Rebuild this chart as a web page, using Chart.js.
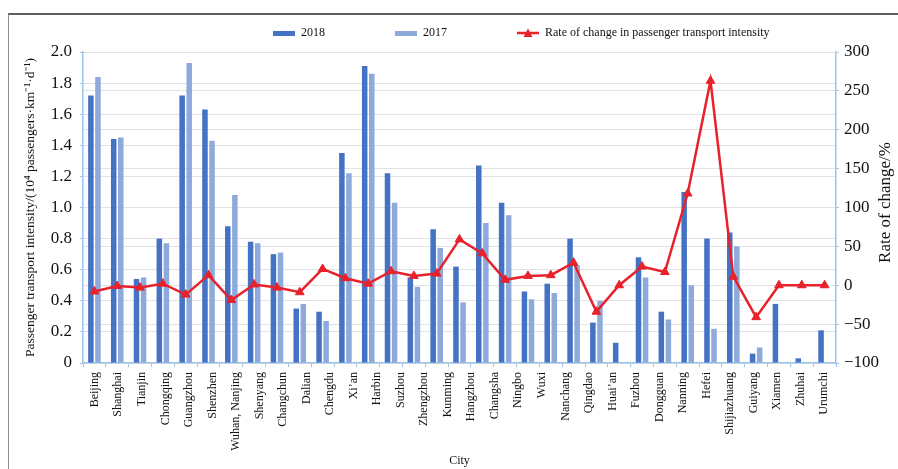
<!DOCTYPE html>
<html>
<head>
<meta charset="utf-8">
<title>Passenger transport intensity by city</title>
<script src="https://cdn.jsdelivr.net/npm/chart.js@4.4.1/dist/chart.umd.min.js"></script>
<style>
  html, body { margin: 0; padding: 0; background: #fff; }
  #wrap { position: relative; width: 898px; height: 469px; overflow: hidden; }
  #frame {
    position: absolute; left: 8px; top: 13px; right: -4px; bottom: -4px;
    border-top: 2px solid #5e5e5e; border-left: 1px solid #8c8c8c;
    pointer-events: none;
  }
</style>
</head>
<body>
<div id="wrap">
  <canvas id="chart" width="898" height="469"></canvas>
  <div id="frame"></div>
</div>
<script>
// City labels as printed under the axis (32 labels for 33 bar groups)
const cities = ['Beijing', 'Shanghai', 'Tianjin', 'Chongqing', 'Guangzhou', 'Shenzhen',
    'Wuhan, Nanjing', 'Shenyang', 'Changchun', 'Dalian', 'Chengdu', 'Xi\u2019an', 'Harbin',
    'Suzhou', 'Zhengzhou', 'Kunming', 'Hangzhou', 'Changsha', 'Ningbo', 'Wuxi', 'Nanchang',
    'Qingdao', 'Huai\u2019an', 'Fuzhou', 'Dongguan', 'Nanning', 'Hefei', 'Shijiazhuang',
    'Guiyang', 'Xiamen', 'Zhuhai', 'Urumchi'];

// Passenger transport intensity, 10^4 passengers per km per day
const intensity2018 = [1.72, 1.44, 0.54, 0.80, 1.72, 1.63, 0.88, 0.78, 0.70, 0.35,
    0.33, 1.35, 1.91, 1.22, 0.55, 0.86, 0.62, 1.27, 1.03, 0.46,
    0.51, 0.80, 0.26, 0.13, 0.68, 0.33, 1.10, 0.80, 0.84, 0.06,
    0.38, 0.03, 0.21];
const intensity2017 = [1.84, 1.45, 0.55, 0.77, 1.93, 1.43, 1.08, 0.77, 0.71, 0.38,
    0.27, 1.22, 1.86, 1.03, 0.49, 0.74, 0.39, 0.90, 0.95, 0.41,
    0.45, 0.63, 0.40, null, 0.55, 0.28, 0.50, 0.22, 0.75, 0.10,
    null, null, null];
// Rate of change, %
const changeRate = [-8, -1, -3, 2, -12, 13, -19, 1, -3, -9,
    21, 9, 2, 18, 12, 15, 59, 41, 7, 12,
    13, 29, -34, 0, 24, 17, 118, 263, 11, -41,
    0, 0, 0];

const leftTicks = { min: 0, max: 2, step: 0.2 };
const rightTicks = { min: -100, max: 300, step: 50 };

const DARK = '#4472c4';
const LIGHT = '#8eaadb';
const RED = '#e8212b';
const AXIS = '#9dc3e6';
const GRID = '#e2e2e2';
const SERIF = '"Liberation Serif", "Times New Roman", serif';

Chart.defaults.font.family = SERIF;
Chart.defaults.color = '#111';

// small canvases used as legend symbols
function swatch(w, h, draw) {
    const c = document.createElement('canvas');
    c.width = w;
    c.height = h;
    draw(c.getContext('2d'), w, h);
    return c;
}
const legendIcons = [
    swatch(22, 5, (g, w, h) => { g.fillStyle = DARK; g.fillRect(0, 0, w, h); }),
    swatch(22, 5, (g, w, h) => { g.fillStyle = LIGHT; g.fillRect(0, 0, w, h); }),
    swatch(22, 10, (g, w, h) => {
        g.strokeStyle = RED; g.lineWidth = 2.5;
        g.beginPath(); g.moveTo(0, h / 2); g.lineTo(w, h / 2); g.stroke();
        g.fillStyle = RED;
        g.beginPath(); g.moveTo(w / 2, 0.5); g.lineTo(w / 2 + 4.5, h - 1); g.lineTo(w / 2 - 4.5, h - 1); g.closePath(); g.fill();
    })
];

// legend sits off-centre and higher than Chart.js would put it
const legendPlacement = {
    id: 'legendPlacement',
    beforeLayout(chart) {
        const lg = chart.legend;
        if (lg && !lg.fitPatched) {
            const fit = lg.fit;
            lg.fit = function () { fit.call(this); this.height = 52; };
            lg.fitPatched = true;
        }
    },
    afterLayout(chart) {
        const lg = chart.legend;
        if (!lg) return;
        const pad = lg.options.labels.padding;
        lg.left = 273 - pad;
        lg.right = chart.width;
        lg.top = 33 - pad - 6;
    }
};

// right-hand title reads bottom-to-top like the left one
const rightTitle = {
    id: 'rightTitle',
    afterDraw(chart) {
        const { ctx, chartArea } = chart;
        const s = chart.scales.y2;
        ctx.save();
        ctx.translate(s.right - 12, (chartArea.top + chartArea.bottom) / 2 - 5);
        ctx.rotate(-Math.PI / 2);
        ctx.font = '17px ' + SERIF;
        ctx.fillStyle = '#111';
        ctx.textAlign = 'center';
        ctx.textBaseline = 'middle';
        ctx.fillText('Rate of change/%', 0, 0);
        ctx.restore();
    }
};

const slots = intensity2018.map((_, i) => String(i + 1));

new Chart(document.getElementById('chart'), {
    data: {
        labels: slots,
        datasets: [
            {
                type: 'bar', label: '2018', data: intensity2018,
                backgroundColor: DARK, yAxisID: 'y', order: 1,
                categoryPercentage: 0.62, barPercentage: 0.78
            },
            {
                type: 'bar', label: '2017', data: intensity2017,
                backgroundColor: LIGHT, yAxisID: 'y', order: 1,
                categoryPercentage: 0.62, barPercentage: 0.78
            },
            {
                type: 'line', label: 'Rate of change in passenger transport intensity',
                data: changeRate, yAxisID: 'y2', order: 0,
                borderColor: RED, backgroundColor: RED, borderWidth: 2.5,
                pointStyle: 'triangle', pointRadius: 5, pointBorderWidth: 1,
                tension: 0
            }
        ]
    },
    options: {
        responsive: false,
        animation: false,
        layout: { padding: 0 },
        plugins: {
            tooltip: { enabled: false },
            legend: {
                position: 'top',
                align: 'start',
                labels: {
                    usePointStyle: true,
                    pointStyleWidth: 22,
                    padding: 70,
                    font: { size: 12 },
                    color: '#111',
                    sort: (a, b) => a.datasetIndex - b.datasetIndex,
                    generateLabels(chart) {
                        const items = Chart.defaults.plugins.legend.labels.generateLabels(chart);
                        items.forEach(it => { it.pointStyle = legendIcons[it.datasetIndex]; });
                        return items;
                    }
                }
            }
        },
        scales: {
            x: {
                type: 'category',
                position: 'bottom',
                offset: true,
                weight: 0,
                ticks: { display: false },
                grid: { offset: true, drawOnChartArea: false, tickLength: 4, color: AXIS, tickColor: AXIS },
                border: { color: AXIS, width: 1.5 },
                afterFit: s => { s.height = 4; }
            },
            cityAxis: {
                type: 'category',
                position: 'bottom',
                labels: cities,
                offset: true,
                weight: 1,
                grid: { display: false, drawTicks: false },
                border: { display: false },
                ticks: {
                    autoSkip: false, minRotation: 90, maxRotation: 90,
                    padding: 5, font: { size: 12 }, color: '#111'
                },
                title: { display: true, text: 'City', font: { size: 12 }, padding: { top: 0, bottom: 1 }, color: '#111' },
                afterFit: s => { s.height = 102; }
            },
            y: {
                position: 'left',
                min: leftTicks.min,
                max: leftTicks.max,
                ticks: {
                    stepSize: leftTicks.step, padding: 8, font: { size: 17 }, color: '#111',
                    callback: v => (v === 0 ? '0' : v.toFixed(1))
                },
                grid: { color: GRID, tickColor: AXIS, tickLength: 3 },
                border: { color: AXIS, width: 1.5 },
                title: {
                    display: true,
                    text: 'Passenger transport intensity/(10\u2074 passengers\u00b7km\u207b\u00b9\u00b7d\u207b\u00b9)',
                    font: { size: 13.5 }, padding: { top: 22, bottom: 0 }, color: '#111'
                },
                afterFit: s => { s.width = 83; }
            },
            y2: {
                position: 'right',
                min: rightTicks.min,
                max: rightTicks.max,
                ticks: {
                    stepSize: rightTicks.step, padding: 5, font: { size: 17 }, color: '#111',
                    callback: v => String(v).replace('-', '\u2212')
                },
                grid: { color: GRID, tickColor: AXIS, tickLength: 3 },
                border: { color: AXIS, width: 1.5 },
                afterFit: s => { s.width = 62; }
            }
        }
    },
    plugins: [legendPlacement, rightTitle]
});
</script>
</body>
</html>
